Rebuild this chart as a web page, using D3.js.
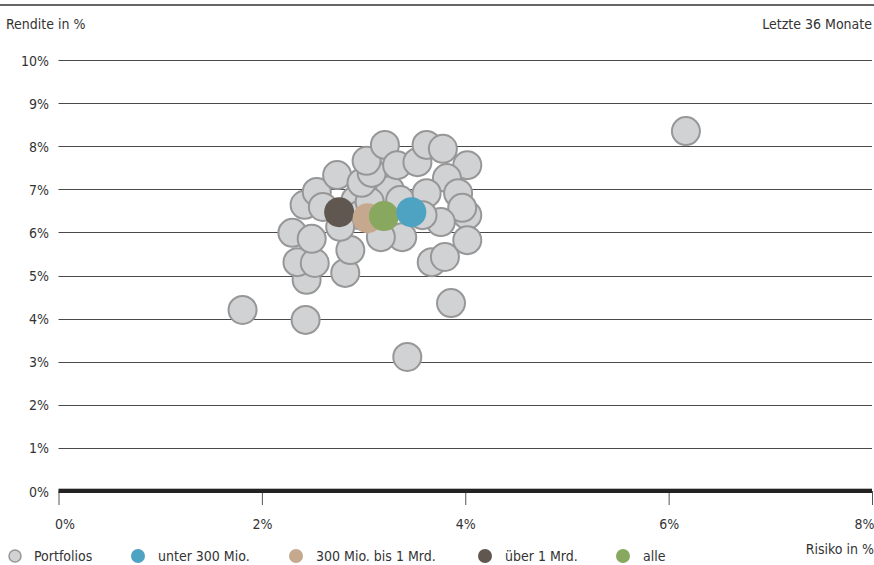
<!DOCTYPE html>
<html>
<head>
<meta charset="utf-8">
<script src="https://cdn.jsdelivr.net/npm/d3@7"></script>
<style>
  html, body { margin: 0; padding: 0; background: #fff; }
  svg text { font-family: "Liberation Sans Narrow", "DejaVu Sans Condensed", "Open Sans", sans-serif; fill: #333; }
</style>
</head>
<body>
<svg id="chart" width="874" height="565"></svg>
<script>
// ---- data ----
const portfolioRisk = [3.20, 2.92, 3.26, 3.36, 2.96, 3.06,
  6.17, 1.81, 2.43, 3.43, 3.86, 2.30, 2.44, 2.35, 2.52, 2.82, 2.49, 2.87,
  2.42, 2.54, 2.60, 2.74, 2.98, 3.08, 3.03, 3.21, 3.33, 3.53, 3.62, 3.78, 4.02, 3.82, 3.62,
  3.93, 4.02, 3.97, 3.76, 3.58, 3.38, 3.17, 3.67, 3.80, 4.02, 2.77];
const portfolioReturn = [7.56, 6.75, 6.98, 6.75, 6.40, 6.71,
  8.35, 4.20, 3.97, 3.11, 4.36, 5.99, 4.90, 5.31, 5.29, 5.06, 5.85, 5.59,
  6.64, 6.94, 6.59, 7.33, 7.15, 7.38, 7.66, 8.03, 7.56, 7.63, 8.03, 7.94, 7.56, 7.26, 6.91,
  6.91, 6.40, 6.57, 6.24, 6.40, 5.89, 5.89, 5.31, 5.43, 5.82, 6.13];
const groupNames = ["über 1 Mrd.", "300 Mio. bis 1 Mrd.", "alle", "unter 300 Mio."];
const groupRisk = [2.76, 3.04, 3.20, 3.47];
const groupReturn = [6.47, 6.33, 6.38, 6.47];
const groupColors = ["#5f5750", "#c6a88f", "#88a860", "#4ea3c3"];
const xTicks = [0, 2, 4, 6, 8];
const yTicks = [0, 1, 2, 3, 4, 5, 6, 7, 8, 9, 10];
const legendNames = ["Portfolios", "unter 300 Mio.", "300 Mio. bis 1 Mrd.", "über 1 Mrd.", "alle"];
const legendColors = ["#d1d2d4", "#4ea3c3", "#c6a88f", "#5f5750", "#88a860"];

// ---- chart ----
const svg = d3.select("#chart");
const x = d3.scaleLinear().domain([0, 8]).range([58.5, 872]);
const y = d3.scaleLinear().domain([0, 10]).range([491, 60]);
const fs = 14;

// top rule
svg.append("line").attr("x1", 0).attr("x2", 874).attr("y1", 5).attr("y2", 5)
  .attr("stroke", "#666").attr("stroke-width", 2);
svg.append("text").attr("x", 6).attr("y", 29).attr("font-size", fs).text("Rendite in %");
svg.append("text").attr("x", 872).attr("y", 29).attr("font-size", fs)
  .attr("text-anchor", "end").text("Letzte 36 Monate");

// gridlines + y labels
const yAxis = d3.axisLeft(y).tickValues(yTicks).tickSize(0).tickFormat(d => d + "%");
const yg = svg.append("g").attr("transform", "translate(49,0)").call(yAxis);
yg.select(".domain").remove();
yg.selectAll("text").attr("font-size", fs).attr("fill", "#333")
  .attr("font-family", null).attr("dy", "0.36em").attr("x", 0);

svg.append("g").selectAll("line").data(yTicks.filter(d => d > 0)).join("line")
  .attr("x1", x(0)).attr("x2", x(8))
  .attr("y1", d => Math.round(y(d)) + 0.5).attr("y2", d => Math.round(y(d)) + 0.5)
  .attr("stroke", "#4a4a4a").attr("stroke-width", 1);

// x axis
const xAxis = d3.axisBottom(x).tickValues(xTicks).tickSize(14).tickFormat(d => d + "%");
const xg = svg.append("g").attr("transform", "translate(0,491)").call(xAxis);
xg.select(".domain").remove();
xg.selectAll(".tick line").attr("stroke", "#555").attr("stroke-width", 1);
xg.selectAll("text").attr("font-size", fs).attr("fill", "#333").attr("font-family", null)
  .attr("y", 38).attr("dy", 0)
  .attr("text-anchor", d => d === 8 ? "end" : "middle")
  .attr("dx", d => d === 0 ? 6 : (d === 8 ? 2 : 0));

svg.append("line").attr("x1", x(0)).attr("x2", x(8)).attr("y1", 488.5).attr("y2", 488.5)
  .attr("stroke", "#bbb").attr("stroke-width", 1);
svg.append("line").attr("x1", x(0)).attr("x2", x(8)).attr("y1", 491).attr("y2", 491)
  .attr("stroke", "#222").attr("stroke-width", 4);

svg.append("text").attr("x", 874).attr("y", 554).attr("font-size", fs)
  .attr("text-anchor", "end").text("Risiko in %");

// portfolio dots
svg.append("g").selectAll("circle").data(d3.range(portfolioRisk.length)).join("circle")
  .attr("cx", i => x(portfolioRisk[i])).attr("cy", i => y(portfolioReturn[i]))
  .attr("r", 14).attr("fill", "#d1d2d4").attr("stroke", "#979797").attr("stroke-width", 2);

// group dots
svg.append("g").selectAll("circle").data(d3.range(groupRisk.length)).join("circle")
  .attr("cx", i => x(groupRisk[i])).attr("cy", i => y(groupReturn[i]))
  .attr("r", 15).attr("fill", i => groupColors[i]);

// legend
const legX = [15, 138, 296, 485, 623];
const lg = svg.append("g");
legendNames.forEach((name, i) => {
  const c = lg.append("circle").attr("cx", legX[i]).attr("cy", 556).attr("r", i === 0 ? 6 : 7)
    .attr("fill", legendColors[i]);
  if (i === 0) c.attr("stroke", "#979797").attr("stroke-width", 1.5);
  lg.append("text").attr("x", legX[i] + (i === 0 ? 19 : 20)).attr("y", 561)
    .attr("font-size", fs).text(name);
});
</script>
</body>
</html>
